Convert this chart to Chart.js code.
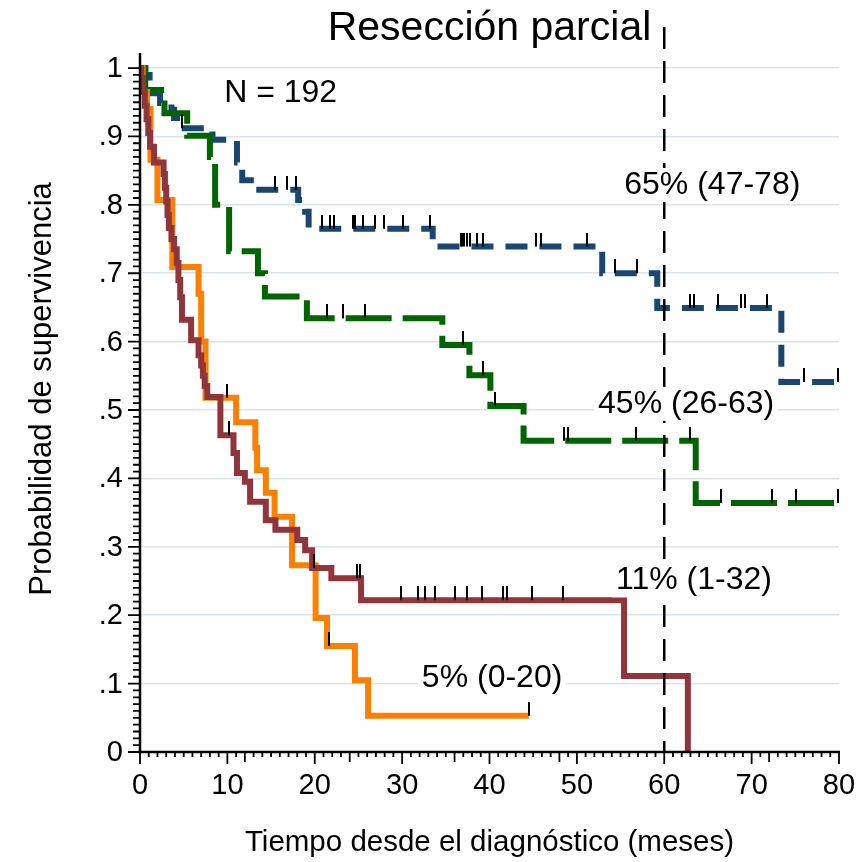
<!DOCTYPE html>
<html>
<head>
<meta charset="utf-8">
<title>Resección parcial</title>
<script src="https://cdn.jsdelivr.net/npm/chart.js@4.4.0/dist/chart.umd.min.js"></script>
<style>
  html, body { margin: 0; padding: 0; background: #fff; }
  canvas { display: block; }
</style>
</head>
<body>
<canvas id="kmChart" width="864" height="862"></canvas>
<script>
// Curvas de Kaplan-Meier (meses, supervivencia)
const blueTimes = [0, 0.6, 1.1, 2.3, 3.6, 3.9, 4.6, 8.3, 11.1, 11.7, 13.1, 18.1, 18.9, 19.3, 33.5, 52.9, 59.2, 73.4];
const blueSurv  = [1, 0.99, 0.963, 0.949, 0.939, 0.927, 0.912, 0.895, 0.862, 0.836, 0.822, 0.807, 0.79, 0.765, 0.739, 0.70, 0.649, 0.541];
const blueCensor = [4.8, 15.4, 16.8, 17.9, 20.8, 21.8, 22.2, 24.4, 24.6, 25.5, 26.9, 27.9, 30.1, 33.2, 36.7, 36.9, 37.1, 37.4, 37.8, 38.6, 39.3, 45.3, 45.9, 51.2, 54.4, 56.9, 63.0, 63.4, 66.1, 68.8, 69.2, 71.8, 76.0, 79.9];
const blueEnd = 80;

const greenTimes = [0, 0.6, 2.8, 5.4, 8.0, 8.6, 10.2, 13.5, 14.3, 19.1, 34.6, 37.7, 40.1, 43.9, 63.6];
const greenSurv  = [1, 0.968, 0.934, 0.901, 0.87, 0.80, 0.732, 0.70, 0.666, 0.634, 0.595, 0.551, 0.506, 0.455, 0.364];
const greenCensor = [21.4, 23.2, 25.8, 37.0, 39.2, 40.6, 48.5, 49.0, 56.8, 63.0, 66.5, 72.3, 75.1, 79.9];
const greenEnd = 80;

const orangeTimes = [0, 0.3, 0.8, 1.2, 2.0, 3.7, 6.7, 7.0, 7.5, 11.0, 13.2, 13.4, 14.4, 15.4, 17.4, 20.1, 21.4, 24.6, 26.1];
const orangeSurv  = [1, 0.965, 0.94, 0.866, 0.807, 0.709, 0.67, 0.60, 0.518, 0.482, 0.445, 0.412, 0.379, 0.344, 0.273, 0.196, 0.155, 0.105, 0.053];
const orangeCensor = [10.0, 21.6, 44.5];
const orangeEnd = 44.5;

const maroonTimes = [0, 0.15, 0.35, 0.55, 0.75, 0.95, 1.15, 1.6, 2.7, 2.85, 3.0, 3.15, 3.3, 3.6, 3.9, 4.2, 4.4, 4.6, 4.8, 5.85, 6.7, 7.0, 7.2, 7.4, 7.7, 9.2, 10.7, 11.1, 12.0, 12.6, 14.4, 15.5, 18.0, 18.9, 19.7, 21.9, 25.3, 55.4, 62.7];
const maroonSurv  = [1, 0.985, 0.965, 0.945, 0.925, 0.905, 0.885, 0.862, 0.845, 0.825, 0.805, 0.785, 0.766, 0.75, 0.735, 0.715, 0.69, 0.665, 0.632, 0.602, 0.58, 0.565, 0.55, 0.535, 0.519, 0.463, 0.437, 0.408, 0.395, 0.366, 0.339, 0.325, 0.31, 0.295, 0.269, 0.254, 0.222, 0.111, 0];
const maroonCensor = [10.2, 19.9, 24.8, 25.2, 29.9, 31.8, 32.6, 33.8, 36.0, 37.4, 39.1, 41.6, 42.0, 44.9, 48.4];
const maroonEnd = 62.7;

const refLineX = 60;

const xTickValues = [0, 10, 20, 30, 40, 50, 60, 70, 80];
const yTickValues = [0, 0.1, 0.2, 0.3, 0.4, 0.5, 0.6, 0.7, 0.8, 0.9, 1];
const yTickLabels = ['0', '.1', '.2', '.3', '.4', '.5', '.6', '.7', '.8', '.9', '1'];

const chartTitle = 'Resección parcial';
const xTitle = 'Tiempo desde el diagnóstico (meses)';
const yTitle = 'Probabilidad de supervivencia';

// textos dentro del grafico (posicion en unidades de datos)
const notes = [
  { text: 'N = 192', x: 16.1, y: 0.963, box: false },
  { text: '65% (47-78)', x: 65.5, y: 0.829, box: true },
  { text: '45% (26-63)', x: 62.5, y: 0.509, box: true },
  { text: '11% (1-32)', x: 63.4, y: 0.251, box: true },
  { text: '5% (0-20)', x: 40.3, y: 0.108, box: true }
];

const FONT = '"Liberation Sans", Arial, Helvetica, sans-serif';

function stepPoints(times, surv, endTime) {
  const pts = times.map((t, i) => ({ x: t, y: surv[i] }));
  if (endTime > times[times.length - 1]) {
    pts.push({ x: endTime, y: surv[surv.length - 1] });
  }
  return pts;
}

function survAt(times, surv, t) {
  let s = surv[0];
  for (let i = 0; i < times.length; i++) {
    if (times[i] <= t) s = surv[i];
  }
  return s;
}

function censorPoints(times, surv, censor) {
  return censor.map(t => ({ x: t, y: survAt(times, surv, t) }));
}

// marca de censura: raya vertical que sale hacia arriba desde la curva
const censorMark = document.createElement('canvas');
censorMark.width = 2;
censorMark.height = 28;
const mctx = censorMark.getContext('2d');
mctx.fillStyle = '#000';
mctx.fillRect(0, 0, 2, 14);

function curve(points, color, dash, order) {
  return {
    data: points,
    stepped: true,
    borderColor: color,
    borderWidth: 6,
    borderDash: dash,
    borderCapStyle: 'butt',
    borderJoinStyle: 'miter',
    pointRadius: 0,
    fill: false,
    order: order
  };
}

function censorSet(points) {
  return {
    data: points,
    showLine: false,
    pointStyle: censorMark,
    pointRadius: 6,
    order: 1
  };
}

const datasets = [
  {
    data: [{ x: refLineX, y: 1.06 }, { x: refLineX, y: 0 }],
    borderColor: '#000',
    borderWidth: 2.5,
    borderDash: [22, 12],
    pointRadius: 0,
    fill: false,
    order: 0
  },
  censorSet(censorPoints(blueTimes, blueSurv, blueCensor)),
  censorSet(censorPoints(greenTimes, greenSurv, greenCensor)),
  censorSet(censorPoints(orangeTimes, orangeSurv, orangeCensor)),
  censorSet(censorPoints(maroonTimes, maroonSurv, maroonCensor)),
  curve(stepPoints(maroonTimes, maroonSurv, maroonEnd), '#90353b', [], 2),
  curve(stepPoints(orangeTimes, orangeSurv, orangeEnd), '#ff8000', [], 3),
  curve(stepPoints(greenTimes, greenSurv, greenEnd), '#006400', [46, 11], 4),
  curve(stepPoints(blueTimes, blueSurv, blueEnd), '#1a476f', [22, 12], 5)
];

// ejes, marcas, etiquetas y titulos al estilo Stata
const stataAxes = {
  id: 'stataAxes',
  afterDraw(chart) {
    const ctx = chart.ctx;
    const xs = chart.scales.x;
    const ys = chart.scales.y;
    const x0 = xs.getPixelForValue(0);
    const y0 = ys.getPixelForValue(0);

    ctx.save();
    ctx.strokeStyle = '#000';
    ctx.lineCap = 'butt';

    // lineas de los ejes
    ctx.lineWidth = 2.5;
    ctx.beginPath();
    ctx.moveTo(x0, y0 + 1);
    ctx.lineTo(x0, ys.getPixelForValue(1.022));
    ctx.moveTo(x0 - 2, y0);
    ctx.lineTo(xs.getPixelForValue(80) + 1, y0);
    ctx.stroke();

    // marcas del eje x (cada mes, cada 12 y cada 10)
    ctx.lineWidth = 1.8;
    ctx.beginPath();
    for (let m = 0; m <= 80; m++) {
      const px = xs.getPixelForValue(m);
      let len = 5;
      if (m % 10 === 0) len = 12;
      else if (m % 12 === 0) len = 10;
      ctx.moveTo(px, y0);
      ctx.lineTo(px, y0 + len);
    }
    // marcas del eje y (cada .01)
    for (let i = 0; i <= 100; i++) {
      const py = ys.getPixelForValue(i / 100);
      const len = i % 10 === 0 ? 12 : 7;
      ctx.moveTo(x0, py);
      ctx.lineTo(x0 - len, py);
    }
    ctx.stroke();

    // etiquetas de las marcas
    ctx.fillStyle = '#000';
    ctx.font = '29px ' + FONT;
    ctx.textAlign = 'center';
    ctx.textBaseline = 'alphabetic';
    xTickValues.forEach(v => {
      ctx.fillText(String(v), xs.getPixelForValue(v), 794);
    });
    ctx.textAlign = 'right';
    ctx.textBaseline = 'middle';
    yTickValues.forEach((v, i) => {
      ctx.fillText(yTickLabels[i], 123, ys.getPixelForValue(v) + 1);
    });

    // titulos de los ejes
    ctx.textAlign = 'center';
    ctx.font = '29.5px ' + FONT;
    ctx.textBaseline = 'alphabetic';
    ctx.fillText(xTitle, (chart.chartArea.left + chart.chartArea.right) / 2, 851);
    ctx.save();
    ctx.translate(51, 389);
    ctx.rotate(-Math.PI / 2);
    ctx.font = '31px ' + FONT;
    ctx.fillText(yTitle, 0, 0);
    ctx.restore();

    // titulo
    ctx.font = '41px ' + FONT;
    ctx.fillText(chartTitle, (chart.chartArea.left + chart.chartArea.right) / 2, 40);

    // textos con fondo blanco
    ctx.font = '32px ' + FONT;
    ctx.textBaseline = 'middle';
    notes.forEach(n => {
      const px = xs.getPixelForValue(n.x);
      const py = ys.getPixelForValue(n.y);
      if (n.box) {
        const w = ctx.measureText(n.text).width + 8;
        ctx.fillStyle = '#fff';
        ctx.fillRect(px - w / 2, py - 17, w, 34);
      }
      ctx.fillStyle = '#000';
      ctx.fillText(n.text, px, py);
    });

    ctx.restore();
  }
};

document.addEventListener('DOMContentLoaded', function() {
  const ctx = document.getElementById('kmChart');
  new Chart(ctx, {
    type: 'line',
    data: { datasets: datasets },
    options: {
      responsive: false,
      animation: false,
      devicePixelRatio: 1,
      layout: { padding: { left: 140, right: 25, top: 27, bottom: 110 } },
      plugins: {
        legend: { display: false },
        tooltip: { enabled: false },
        title: { display: false }
      },
      scales: {
        x: {
          type: 'linear',
          min: 0,
          max: 80,
          grid: { display: false },
          border: { display: false },
          ticks: { display: false },
          afterFit: s => { s.height = 0; }
        },
        y: {
          type: 'linear',
          min: 0,
          max: 1.06,
          afterBuildTicks: s => { s.ticks = yTickValues.map(v => ({ value: v })); },
          grid: {
            color: c => (c.tick && c.tick.value > 0) ? '#d8e3ea' : 'rgba(0,0,0,0)',
            lineWidth: 1.5,
            drawTicks: false
          },
          border: { display: false },
          ticks: { display: false },
          afterFit: s => { s.width = 0; }
        }
      }
    },
    plugins: [stataAxes]
  });
});
</script>
</body>
</html>
